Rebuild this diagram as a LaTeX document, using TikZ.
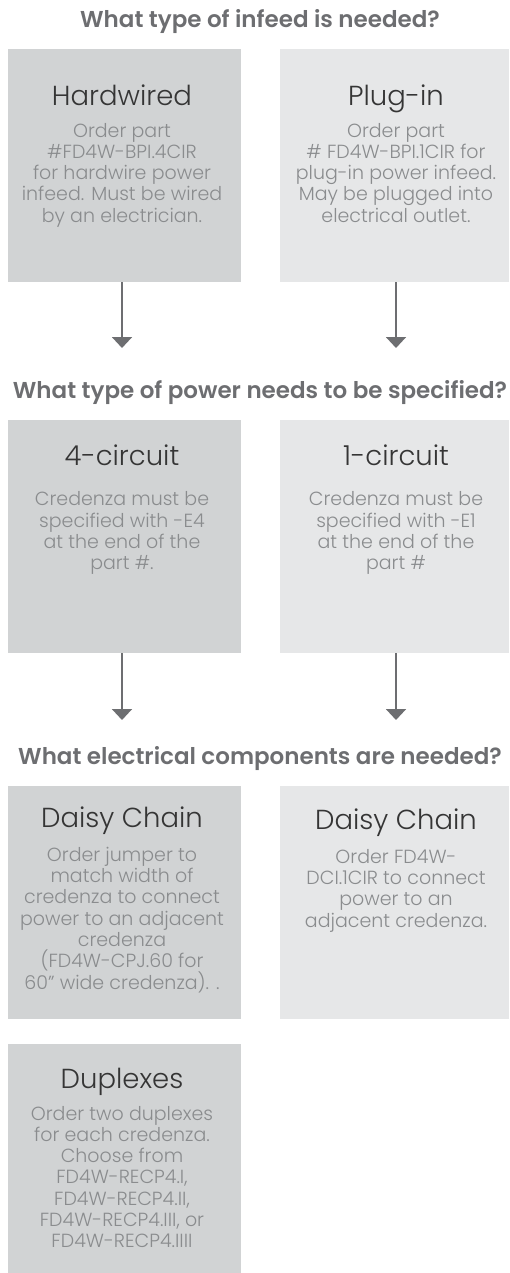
\documentclass[tikz,border=0pt]{standalone}
\usepackage{fontspec}
\setmainfont{Poppins}[BoldFont={Poppins SemiBold}]
\newfontfamily\thinfont{Poppins Light}
\usetikzlibrary{arrows.meta}
\definecolor{boxdark}{HTML}{D1D3D4}
\definecolor{boxlight}{HTML}{E6E7E8}
\definecolor{asktext}{HTML}{6D6E71}
\definecolor{headtext}{HTML}{353535}
\definecolor{bodytext}{HTML}{8A8C8E}
\begin{document}
\begin{tikzpicture}[x=1pt, y=-1pt, every node/.style={inner sep=0pt, outer sep=0pt},
	question/.style={anchor=base, text=asktext, font=\fontsize{23}{26}\selectfont\bfseries},
	darkbox/.style={fill=boxdark, minimum width=233pt, minimum height=233pt},
	lightbox/.style={fill=boxlight, minimum width=229pt, minimum height=233pt},
	heading/.style={anchor=base, text=headtext, font=\fontsize{27.5}{30}\selectfont\thinfont},
	body/.style={anchor=north, align=center, text=bodytext, font=\fontsize{19}{21.3}\selectfont\thinfont},
	flow/.style={draw=asktext, line width=2pt, -{Triangle[width=20pt, length=11pt]}}]
	\useasboundingbox (0,0) rectangle (509,1273);

	% Infeed
	\node[question] (ask1) at (260,27.3) {What type of infeed is needed?};
	\node[darkbox] (hard) at (124.5,165.5) {};
	\node[lightbox] (plug) at (394.5,165.5) {};
	\node[heading] (hardhead) at (122,106) {Hardwired};
	\node[heading] (plughead) at (396,106) {Plug-in};
	\node[body] (hardtext) at (122,123) {Order part\\\#FD4W-BPI.4CIR\\for hardwire power\\infeed. Must be wired\\by an electrician.};
	\node[body] (plugtext) at (396,123) {Order part\\\# FD4W-BPI.1CIR for\\plug-in power infeed.\\May be plugged into\\electrical outlet.};
	\coordinate (hardend) at (122,348);
	\coordinate (plugend) at (396,348);
	\draw[flow] (hardhead |- hard.south) -- (hardend);
	\draw[flow] (plughead |- plug.south) -- (plugend);

	% Power
	\node[question] (ask2) at (260,398.3) {What type of power needs to be specified?};
	\node[darkbox] (four) at (124.5,536.5) {};
	\node[lightbox] (one) at (394.5,536.5) {};
	\node[heading] (fourhead) at (122,465.7) {4-circuit};
	\node[heading] (onehead) at (396,465.7) {1-circuit};
	\node[body] (fourtext) at (122,491.7) {Credenza must be\\specified with -E4\\at the end of the\\part \#.};
	\node[body] (onetext) at (396,491.7) {Credenza must be\\specified with -E1\\at the end of the\\part \#};
	\coordinate (fourend) at (122,720);
	\coordinate (oneend) at (396,720);
	\draw[flow] (fourhead |- four.south) -- (fourend);
	\draw[flow] (onehead |- one.south) -- (oneend);

	% Components
	\node[question] (ask3) at (260,764) {What electrical components are needed?};
	\node[darkbox] (jumper) at (124.5,902.5) {};
	\node[lightbox] (chain) at (394.5,902.5) {};
	\node[heading] (jumperhead) at (122,827.7) {Daisy Chain};
	\node[heading] (chainhead) at (396,829.3) {Daisy Chain};
	\node[body] (jumpertext) at (122,847) {Order jumper to\\match width of\\credenza to connect\\power to an adjacent\\credenza\\(FD4W-CPJ.60 for\\60” wide credenza). .};
	\node[body] (chaintext) at (396,849.3) {Order FD4W-\\DCI.1CIR to connect\\power to an\\adjacent credenza.};

	\node[darkbox, minimum height=229pt] (duplex) at (124.5,1158.5) {};
	\node[heading] (duplexhead) at (122,1088.3) {Duplexes};
	\node[body] (duplextext) at (122,1106) {Order two duplexes\\for each credenza.\\Choose from\\FD4W-RECP4.I,\\FD4W-RECP4.II,\\FD4W-RECP4.III, or\\FD4W-RECP4.IIII};
\end{tikzpicture}
\end{document}
